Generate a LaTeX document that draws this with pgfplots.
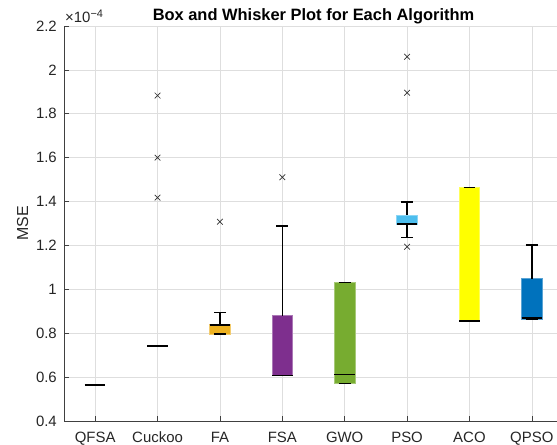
\documentclass[border=0pt]{standalone}
\usepackage{pgfplots}
\pgfplotsset{compat=1.18}
\usepgfplotslibrary{statistics}
\usepackage{fontspec}
\setmainfont{Liberation Sans}

\definecolor{cFA}{HTML}{EDB120}
\definecolor{cFSA}{HTML}{7E2F8E}
\definecolor{cGWO}{HTML}{77AC30}
\definecolor{cPSO}{HTML}{4DBEEE}
\definecolor{cACO}{HTML}{FFFF00}
\definecolor{cQPSO}{HTML}{0072BD}
\definecolor{cNone}{HTML}{FFFFFF}
\definecolor{axisgray}{HTML}{404040}

\pgfplotsset{
  algbox/.style={
    solid, black, line width=1.4pt,
    mark=x, mark size=4pt,
    mark options={draw=black!80, line width=0.7pt},
    boxplot/draw direction=y,
    boxplot/box extend=0.33,
    boxplot/whisker extend=0.19,
    boxplot/every box/.style={fill=#1, draw=#1!65!white, line width=0.6pt},
    boxplot/every whisker/.style={black, line width=1.4pt},
    boxplot/every median/.style={black, line width=1.5pt},
  },
  % second pass: whiskers and median only, drawn over the filled box
  algtop/.style={
    algbox=cNone,
    boxplot/every box/.style={draw=none, fill=none},
  },
}

% #1 colour, #2 position, #3 lower whisker, #4 lower quartile,
% #5 median, #6 upper quartile, #7 upper whisker, #8 outliers
\newcommand\algplot[8]{%
  \addplot[algbox=#1, boxplot prepared={draw position=#2,
    lower whisker=#3, lower quartile=#4, median=#5,
    upper quartile=#6, upper whisker=#7}] coordinates {#8};
  \addplot[algtop, boxplot prepared={draw position=#2,
    lower whisker=#3, lower quartile=#4, median=#5,
    upper quartile=#6, upper whisker=#7}] coordinates {};
}

\begin{document}
\begin{tikzpicture}
\begin{axis}[
  name=ax,
  scale only axis,
  width=499bp, height=395bp,
  xmin=0.5, xmax=8.5,
  ymin=0.4, ymax=2.2,
  xtick={1,2,3,4,5,6,7,8},
  xticklabels={QFSA,Cuckoo,FA,FSA,GWO,PSO,ACO,QPSO},
  ytick={0.4,0.6,0.8,1,1.2,1.4,1.6,1.8,2,2.2},
  yticklabels={0.4,0.6,0.8,1,1.2,1.4,1.6,1.8,2,2.2},
  axis x line*=bottom, axis y line*=left,
  axis line style={-, draw=axisgray, line width=0.6pt},
  tick align=inside,
  major tick length=5bp,
  tick style={draw=axisgray, line width=0.6pt},
  grid=major,
  grid style={draw=black!13, line width=0.6pt},
  ticklabel style={font=\fontsize{15}{17}\selectfont, text=black!85},
  yticklabel style={anchor=east, inner sep=0pt, xshift=-7bp},
  xticklabel style={anchor=base, inner sep=0pt, yshift=-21.5bp},
  title={Box and Whisker Plot for Each Algorithm},
  title style={at={(0.5,1)}, anchor=base, inner sep=0pt, yshift=0bp,
    font=\bfseries\fontsize{16.5}{18}\selectfont},
  ylabel={MSE},
  ylabel style={at={(axis description cs:-0.0721,0.5)}, anchor=base,
    rotate=0, inner sep=0pt, font=\fontsize{16}{18}\selectfont, text=black!85},
]
% QFSA: all runs give the same error
\algplot{cNone}{1}{0.565}{0.565}{0.565}{0.565}{0.565}{}
% Cuckoo
\algplot{cNone}{2}{0.742}{0.742}{0.742}{0.742}{0.742}{(0,1.883) (0,1.600) (0,1.418)}
% FA
\algplot{cFA}{3}{0.797}{0.797}{0.837}{0.840}{0.895}{(0,1.308)}
% FSA
\algplot{cFSA}{4}{0.607}{0.607}{0.607}{0.880}{1.289}{(0,1.511)}
% GWO
\algplot{cGWO}{5}{0.572}{0.572}{0.611}{1.030}{1.030}{}
% PSO
\algplot{cPSO}{6}{1.237}{1.297}{1.297}{1.339}{1.398}{(0,1.194) (0,1.896) (0,2.060)}
% ACO
\algplot{cACO}{7}{0.856}{0.856}{0.856}{1.465}{1.465}{}
% QPSO
\algplot{cQPSO}{8}{0.864}{0.864}{0.869}{1.049}{1.202}{}
\end{axis}
% axis exponent
\node[anchor=base west, inner sep=0pt, font=\fontsize{15}{17}\selectfont, text=black!85]
  at ([xshift=1bp,yshift=3.5bp]ax.north west)
  {×10\raisebox{5bp}{\fontsize{11}{12}\selectfont −4}};
\pgfresetboundingbox
\path[use as bounding box] ([shift={(-64bp,-24bp)}]ax.south west) rectangle ++(557bp,445bp);
\end{tikzpicture}
\end{document}
